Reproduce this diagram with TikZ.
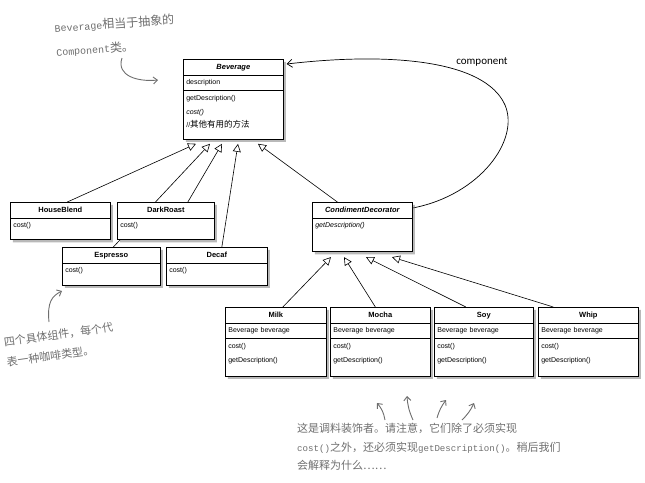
\documentclass[tikz,border=0pt]{standalone}
\usepackage{fontspec}
\setmainfont{Liberation Sans}
\newfontfamily\cjk{Noto Sans CJK SC}
\newfontfamily\hmono[Scale=0.83]{Liberation Mono}
\newfontfamily\lblfont{Carlito}
\usepackage{tikz}
\usetikzlibrary{arrows.meta,calc,shapes.multipart,shadows,backgrounds}
\definecolor{lapis}{HTML}{6E6E6E}
% struts for the class boxes
\newcommand{\ls}{\rule[-3.5pt]{0pt}{11pt}}
\newcommand{\gap}[1]{\rule[-#1]{0pt}{0pt}}
\newcommand{\ttl}[1]{\ls\hbox to\linewidth{\hss\fontsize{7.5}{13.5}\selectfont\bfseries #1\hss}}

\begin{document}
\begin{tikzpicture}[x=1pt, y=-1pt,
  cls/.style={draw, line width=0.7pt, fill=white, rectangle split, rectangle split parts=#1,
    inner xsep=3pt, inner ysep=2pt, align=left, font=\fontsize{7}{13.5}\selectfont,
    drop shadow={shadow xshift=2.5pt, shadow yshift=-2.5pt, fill=black!55, opacity=.5}},
  inh/.style={line width=0.6pt, -{Triangle[open, length=8pt, width=8pt, fill=white]}},
  hand/.style={lapis, line width=0.9pt, -{Straight Barb[length=4pt, width=7pt]}},
  note/.style={text=lapis, inner sep=0pt, align=left}]
  \useasboundingbox (0,0) rectangle (645,482);

  % component
  \node[cls=3, text width=94pt, anchor=north west] (bev) at (183,59)
    {\ttl{\itshape Beverage}\nodepart{two}\ls description\nodepart{three}\ls getDescription()\\\textit{cost()}\\//{\cjk\fontsize{8.5}{13.5}\selectfont 其他有用的方法}\gap{9.5pt}};

  % concrete components
  \node[cls=2, text width=94pt, anchor=north west] (hb) at (10,202)
    {\ttl{HouseBlend}\nodepart{two}\ls cost()\gap{9.5pt}};
  \node[cls=2, text width=91pt, anchor=north west] (dr) at (117,202)
    {\ttl{DarkRoast}\nodepart{two}\ls cost()\gap{9.5pt}};
  \node[cls=2, text width=92pt, anchor=north west] (esp) at (62,247)
    {\ttl{Espresso}\nodepart{two}\ls cost()\gap{10pt}};
  \node[cls=2, text width=95pt, anchor=north west] (dec) at (166,247)
    {\ttl{Decaf}\nodepart{two}\ls cost()\gap{10pt}};

  % decorators
  \node[cls=2, text width=94pt, anchor=north west] (cd) at (312,202)
    {\ttl{\itshape CondimentDecorator}\nodepart{two}\ls\textit{getDescription()}\gap{21.5pt}};
  \node[cls=3, text width=95pt, anchor=north west] (milk) at (225,307)
    {\ttl{Milk}\nodepart{two}\ls Beverage beverage\nodepart{three}\ls cost()\\getDescription()\gap{12pt}};
  \node[cls=3, text width=94pt, anchor=north west] (mocha) at (330,307)
    {\ttl{Mocha}\nodepart{two}\ls Beverage beverage\nodepart{three}\ls cost()\\getDescription()\gap{12pt}};
  \node[cls=3, text width=93pt, anchor=north west] (soy) at (434,307)
    {\ttl{Soy}\nodepart{two}\ls Beverage beverage\nodepart{three}\ls cost()\\getDescription()\gap{12pt}};
  \node[cls=3, text width=94pt, anchor=north west] (whip) at (538,307)
    {\ttl{Whip}\nodepart{two}\ls Beverage beverage\nodepart{three}\ls cost()\\getDescription()\gap{12pt}};

  \node[font=\lblfont\fontsize{11}{13}\selectfont] (complbl) at (482,62) {component};

  \begin{pgfonlayer}{background}
    \foreach \n/\dx in {1/13,2/27,3/39,4/55,5/75}
      \coordinate (bt\n) at ($(bev.south west)+(\dx,4)$);
    \foreach \n/\dx in {1/19,2/32,3/54,4/80}
      \coordinate (ct\n) at ($(cd.south west)+(\dx,5)$);
    \draw[inh] ($(hb.north)+(7,0)$) -- (bt1);
    \draw[inh] ($(esp.north)+(2,0)$) -- (bt2);
    \draw[inh] ($(dr.north)+(22,0)$) -- (bt3);
    \draw[inh] ($(dec.north)+(5,0)$) -- (bt4);
    \draw[inh] ($(cd.north)+(-25,0)$) -- (bt5);
    \draw[inh] ($(milk.north)+(7,0)$) -- (ct1);
    \draw[inh] ($(mocha.north)+(-5,0)$) -- (ct2);
    \draw[inh] ($(soy.north)+(-18,0)$) -- (ct3);
    \draw[inh] ($(whip.north)+(-35,0)$) -- (ct4);
    \draw[line width=0.7pt, -{Straight Barb[length=5pt, width=8pt]}]
      ($(cd.north east)+(0,6)$) .. controls (480,195) and (520,140) .. (505,105)
      .. controls (485,60) and (390,52) .. ($(bev.north east)+(3,5)$);
  \end{pgfonlayer}

  % hand-written notes
  \node[note, rotate=4, anchor=north west, font=\cjk\fontsize{12}{24}\selectfont] (ann1) at (54,22)
    {{\hmono Beverage}相当于抽象的\\{\hmono Component}类。};
  \node[note, rotate=8, anchor=north west, font=\cjk\fontsize{11}{20}\selectfont] (ann2) at (3,337)
    {四个具体组件，每个代\\表一种咖啡类型。};
  \node[note, anchor=north west, font=\cjk\fontsize{11}{18.5}\selectfont] (ann3) at (297,423)
    {这是调料装饰者。请注意，它们除了必须实现\\{\hmono cost()}之外，还必须实现{\hmono getDescription()}。稍后我们\\会解释为什么……};

  \coordinate (a1) at (122,58);
  \coordinate (a1t) at (158,80);
  \draw[hand] (a1) .. controls (116,76) and (138,82) .. (a1t);
  \coordinate (a2) at (49,322);
  \coordinate (a2t) at (62,291);
  \draw[hand] (a2) .. controls (47,302) and (52,296) .. (a2t);
  \foreach \sx/\sy/\ex/\ey/\b in {385/420/377/403/-15, 413/420/407/396/10, 437/418/446/400/10, 462/420/474/403/-10}
    \draw[hand] (\sx,\sy) to[bend left=\b] (\ex,\ey);
\end{tikzpicture}
\end{document}
